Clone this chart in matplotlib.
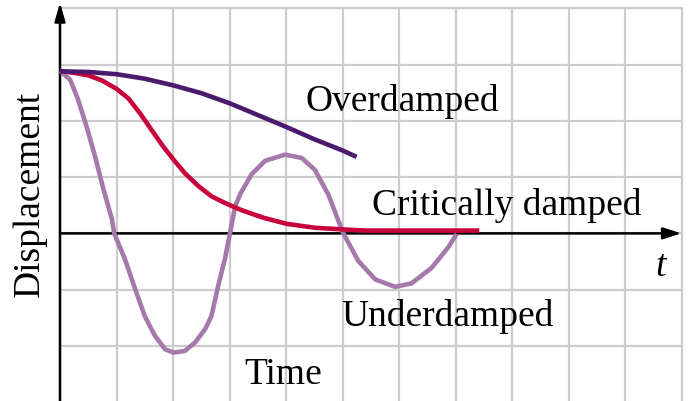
import matplotlib.pyplot as plt
import numpy as np

# curves (x, y in grid units, axis crossing at y=0)
over_x = [0.0, 0.50, 1.00, 1.50, 2.01, 2.51, 3.01, 3.51, 4.01, 4.51, 5.01, 5.25]
over_y = [2.88, 2.87, 2.83, 2.75, 2.63, 2.49, 2.31, 2.10, 1.89, 1.67, 1.47, 1.36]

crit_x = [0.0, 0.27, 0.50, 0.74, 1.00, 1.21, 1.42, 1.62, 1.83, 2.01, 2.21,
          2.45, 2.68, 2.92, 3.22, 3.45, 3.63, 4.01, 4.51, 5.01, 5.40, 7.42]
crit_y = [2.89, 2.85, 2.81, 2.72, 2.57, 2.40, 2.13, 1.84, 1.54, 1.31, 1.07,
          0.84, 0.66, 0.54, 0.41, 0.33, 0.27, 0.17, 0.10, 0.07, 0.05, 0.05]

under_x = [0.0, 0.18, 0.32, 0.47, 0.62, 0.77, 0.92, 0.96, 1.15, 1.33, 1.50,
           1.68, 1.86, 2.01, 2.21, 2.39, 2.57, 2.68, 2.80, 2.92, 3.01, 3.10,
           3.19, 3.39, 3.63, 3.98, 4.28, 4.51, 4.75, 5.01, 5.28, 5.58, 5.93,
           6.22, 6.58, 6.87, 7.02]
under_y = [2.89, 2.73, 2.38, 1.90, 1.37, 0.78, 0.25, 0.0, -0.46, -0.99, -1.47,
           -1.82, -2.06, -2.12, -2.09, -1.94, -1.70, -1.47, -0.93, -0.45, 0.01, 0.48,
           0.70, 1.05, 1.29, 1.40, 1.34, 1.13, 0.69, 0.01, -0.49, -0.82, -0.95,
           -0.89, -0.61, -0.25, -0.01]

labels = ["Overdamped", "Critically damped", "Underdamped", "Time"]
label_pos = [(4.34, 2.18), (5.53, 0.33), (4.98, -1.65), (3.27, -2.68)]

fig = plt.figure(figsize=(6.88, 4.01), dpi=100)
ax = fig.add_axes([0, 0, 1, 1])
ax.set_xlim(-1.062, 11.115)
ax.set_ylim(-2.98, 4.149)
ax.axis('off')

grid_c = '#cccccc'
for gx in range(0, 12):
    ax.plot([gx, gx], [-3, 4], color=grid_c, lw=1.6, zorder=1)
for gy in range(-3, 5):
    ax.plot([0, 11], [gy, gy], color=grid_c, lw=1.6, zorder=1)

# axes arrows
ax.annotate('', xy=(11.0, 0), xytext=(0, 0),
            arrowprops=dict(arrowstyle='-|>,head_length=1.1,head_width=0.35',
                            lw=1.8, color='black', shrinkA=0, shrinkB=0),
            zorder=3)
ax.annotate('', xy=(0, 4.1), xytext=(0, -3.2),
            arrowprops=dict(arrowstyle='-|>,head_length=1.1,head_width=0.32',
                            lw=1.8, color='black', shrinkA=0, shrinkB=0),
            zorder=3)

ax.plot(under_x, under_y, color='#a57aab', lw=3.3, zorder=4,
        solid_joinstyle='round', solid_capstyle='butt')
ax.plot(crit_x, crit_y, color='#c8003c', lw=3.3, zorder=5,
        solid_joinstyle='round', solid_capstyle='butt')
ax.plot(over_x, over_y, color='#4a1a6e', lw=3.3, zorder=6,
        solid_joinstyle='round', solid_capstyle='butt')

font = dict(family='Liberation Serif', size=27)
for lab, (lx, ly) in zip(labels, label_pos):
    ax.text(lx, ly, lab, ha='left', va='baseline', zorder=7, **font)
ax.text(10.53, -0.76, 't', ha='left', va='baseline', style='italic', zorder=7, **font)
ax.text(-0.53, 0.70, 'Displacement', rotation=90, ha='center', va='center',
        zorder=7, **font)

fig.savefig('out.png', dpi=100)
